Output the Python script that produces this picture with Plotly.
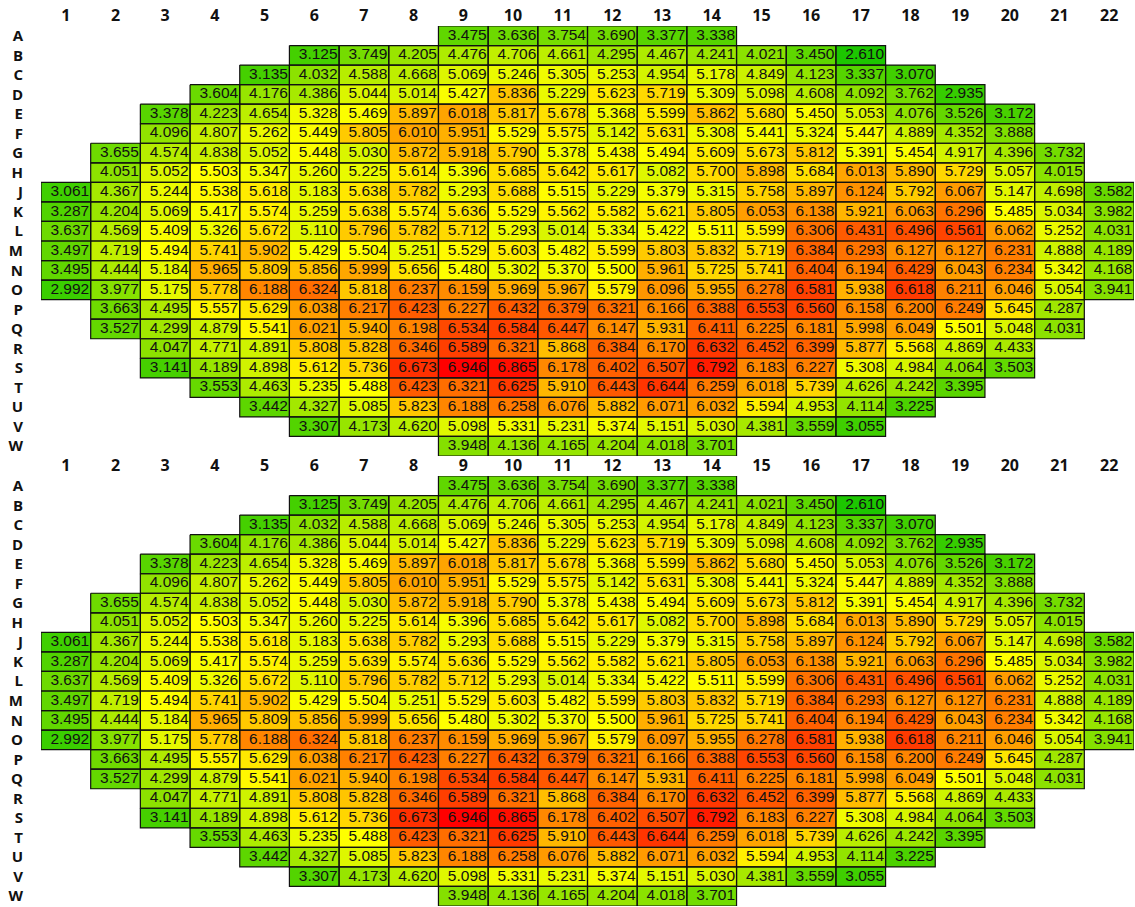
import plotly.graph_objects as go

# Core map: row letters (no "I"), column numbers, and first populated column per row
row_labels = list("ABCDEFGHJKLMNOPQRSTUVW")
col_labels = [str(i) for i in range(1, 23)]
row_first_col = [9, 6, 5, 4, 3, 3, 2, 2, 1, 1, 1, 1, 1, 1, 2, 2, 3, 3, 4, 5, 6, 9]

# Upper map values, listed row by row from the first populated column
upper_values = [
    [3.475, 3.636, 3.754, 3.690, 3.377, 3.338],
    [3.125, 3.749, 4.205, 4.476, 4.706, 4.661, 4.295, 4.467, 4.241, 4.021, 3.450, 2.610],
    [3.135, 4.032, 4.588, 4.668, 5.069, 5.246, 5.305, 5.253, 4.954, 5.178, 4.849, 4.123, 3.337, 3.070],
    [3.604, 4.176, 4.386, 5.044, 5.014, 5.427, 5.836, 5.229, 5.623, 5.719, 5.309, 5.098, 4.608, 4.092, 3.762, 2.935],
    [3.378, 4.223, 4.654, 5.328, 5.469, 5.897, 6.018, 5.817, 5.678, 5.368, 5.599, 5.862, 5.680, 5.450, 5.053, 4.076, 3.526, 3.172],
    [4.096, 4.807, 5.262, 5.449, 5.805, 6.010, 5.951, 5.529, 5.575, 5.142, 5.631, 5.308, 5.441, 5.324, 5.447, 4.889, 4.352, 3.888],
    [3.655, 4.574, 4.838, 5.052, 5.448, 5.030, 5.872, 5.918, 5.790, 5.378, 5.438, 5.494, 5.609, 5.673, 5.812, 5.391, 5.454, 4.917, 4.396, 3.732],
    [4.051, 5.052, 5.503, 5.347, 5.260, 5.225, 5.614, 5.396, 5.685, 5.642, 5.617, 5.082, 5.700, 5.898, 5.684, 6.013, 5.890, 5.729, 5.057, 4.015],
    [3.061, 4.367, 5.244, 5.538, 5.618, 5.183, 5.638, 5.782, 5.293, 5.688, 5.515, 5.229, 5.379, 5.315, 5.758, 5.897, 6.124, 5.792, 6.067, 5.147, 4.698, 3.582],
    [3.287, 4.204, 5.069, 5.417, 5.574, 5.259, 5.638, 5.574, 5.636, 5.529, 5.562, 5.582, 5.621, 5.805, 6.053, 6.138, 5.921, 6.063, 6.296, 5.485, 5.034, 3.982],
    [3.637, 4.569, 5.409, 5.326, 5.672, 5.110, 5.796, 5.782, 5.712, 5.293, 5.014, 5.334, 5.422, 5.511, 5.599, 6.306, 6.431, 6.496, 6.561, 6.062, 5.252, 4.031],
    [3.497, 4.719, 5.494, 5.741, 5.902, 5.429, 5.504, 5.251, 5.529, 5.603, 5.482, 5.599, 5.803, 5.832, 5.719, 6.384, 6.293, 6.127, 6.127, 6.231, 4.888, 4.189],
    [3.495, 4.444, 5.184, 5.965, 5.809, 5.856, 5.999, 5.656, 5.480, 5.302, 5.370, 5.500, 5.961, 5.725, 5.741, 6.404, 6.194, 6.429, 6.043, 6.234, 5.342, 4.168],
    [2.992, 3.977, 5.175, 5.778, 6.188, 6.324, 5.818, 6.237, 6.159, 5.969, 5.967, 5.579, 6.096, 5.955, 6.278, 6.581, 5.938, 6.618, 6.211, 6.046, 5.054, 3.941],
    [3.663, 4.495, 5.557, 5.629, 6.038, 6.217, 6.423, 6.227, 6.432, 6.379, 6.321, 6.166, 6.388, 6.553, 6.560, 6.158, 6.200, 6.249, 5.645, 4.287],
    [3.527, 4.299, 4.879, 5.541, 6.021, 5.940, 6.198, 6.534, 6.584, 6.447, 6.147, 5.931, 6.411, 6.225, 6.181, 5.998, 6.049, 5.501, 5.048, 4.031],
    [4.047, 4.771, 4.891, 5.808, 5.828, 6.346, 6.589, 6.321, 5.868, 6.384, 6.170, 6.632, 6.452, 6.399, 5.877, 5.568, 4.869, 4.433],
    [3.141, 4.189, 4.898, 5.612, 5.736, 6.673, 6.946, 6.865, 6.178, 6.402, 6.507, 6.792, 6.183, 6.227, 5.308, 4.984, 4.064, 3.503],
    [3.553, 4.463, 5.235, 5.488, 6.423, 6.321, 6.625, 5.910, 6.443, 6.644, 6.259, 6.018, 5.739, 4.626, 4.242, 3.395],
    [3.442, 4.327, 5.085, 5.823, 6.188, 6.258, 6.076, 5.882, 6.071, 6.032, 5.594, 4.953, 4.114, 3.225],
    [3.307, 4.173, 4.620, 5.098, 5.331, 5.231, 5.374, 5.151, 5.030, 4.381, 3.559, 3.055],
    [3.948, 4.136, 4.165, 4.204, 4.018, 3.701],
]

# Lower map values
lower_values = [
    [3.475, 3.636, 3.754, 3.690, 3.377, 3.338],
    [3.125, 3.749, 4.205, 4.476, 4.706, 4.661, 4.295, 4.467, 4.241, 4.021, 3.450, 2.610],
    [3.135, 4.032, 4.588, 4.668, 5.069, 5.246, 5.305, 5.253, 4.954, 5.178, 4.849, 4.123, 3.337, 3.070],
    [3.604, 4.176, 4.386, 5.044, 5.014, 5.427, 5.836, 5.229, 5.623, 5.719, 5.309, 5.098, 4.608, 4.092, 3.762, 2.935],
    [3.378, 4.223, 4.654, 5.328, 5.469, 5.897, 6.018, 5.817, 5.678, 5.368, 5.599, 5.862, 5.680, 5.450, 5.053, 4.076, 3.526, 3.172],
    [4.096, 4.807, 5.262, 5.449, 5.805, 6.010, 5.951, 5.529, 5.575, 5.142, 5.631, 5.308, 5.441, 5.324, 5.447, 4.889, 4.352, 3.888],
    [3.655, 4.574, 4.838, 5.052, 5.448, 5.030, 5.872, 5.918, 5.790, 5.378, 5.438, 5.494, 5.609, 5.673, 5.812, 5.391, 5.454, 4.917, 4.396, 3.732],
    [4.051, 5.052, 5.503, 5.347, 5.260, 5.225, 5.614, 5.396, 5.685, 5.642, 5.617, 5.082, 5.700, 5.898, 5.684, 6.013, 5.890, 5.729, 5.057, 4.015],
    [3.061, 4.367, 5.244, 5.538, 5.618, 5.183, 5.638, 5.782, 5.293, 5.688, 5.515, 5.229, 5.379, 5.315, 5.758, 5.897, 6.124, 5.792, 6.067, 5.147, 4.698, 3.582],
    [3.287, 4.204, 5.069, 5.417, 5.574, 5.259, 5.639, 5.574, 5.636, 5.529, 5.562, 5.582, 5.621, 5.805, 6.053, 6.138, 5.921, 6.063, 6.296, 5.485, 5.034, 3.982],
    [3.637, 4.569, 5.409, 5.326, 5.672, 5.110, 5.796, 5.782, 5.712, 5.293, 5.014, 5.334, 5.422, 5.511, 5.599, 6.306, 6.431, 6.496, 6.561, 6.062, 5.252, 4.031],
    [3.497, 4.719, 5.494, 5.741, 5.902, 5.429, 5.504, 5.251, 5.529, 5.603, 5.482, 5.599, 5.803, 5.832, 5.719, 6.384, 6.293, 6.127, 6.127, 6.231, 4.888, 4.189],
    [3.495, 4.444, 5.184, 5.965, 5.809, 5.856, 5.999, 5.656, 5.480, 5.302, 5.370, 5.500, 5.961, 5.725, 5.741, 6.404, 6.194, 6.429, 6.043, 6.234, 5.342, 4.168],
    [2.992, 3.977, 5.175, 5.778, 6.188, 6.324, 5.818, 6.237, 6.159, 5.969, 5.967, 5.579, 6.097, 5.955, 6.278, 6.581, 5.938, 6.618, 6.211, 6.046, 5.054, 3.941],
    [3.663, 4.495, 5.557, 5.629, 6.038, 6.217, 6.423, 6.227, 6.432, 6.379, 6.321, 6.166, 6.388, 6.553, 6.560, 6.158, 6.200, 6.249, 5.645, 4.287],
    [3.527, 4.299, 4.879, 5.541, 6.021, 5.940, 6.198, 6.534, 6.584, 6.447, 6.147, 5.931, 6.411, 6.225, 6.181, 5.998, 6.049, 5.501, 5.048, 4.031],
    [4.047, 4.771, 4.891, 5.808, 5.828, 6.346, 6.589, 6.321, 5.868, 6.384, 6.170, 6.632, 6.452, 6.399, 5.877, 5.568, 4.869, 4.433],
    [3.141, 4.189, 4.898, 5.612, 5.736, 6.673, 6.946, 6.865, 6.178, 6.402, 6.507, 6.792, 6.183, 6.227, 5.308, 4.984, 4.064, 3.503],
    [3.553, 4.463, 5.235, 5.488, 6.423, 6.321, 6.625, 5.910, 6.443, 6.644, 6.259, 6.018, 5.739, 4.626, 4.242, 3.395],
    [3.442, 4.327, 5.085, 5.823, 6.188, 6.258, 6.076, 5.882, 6.071, 6.032, 5.594, 4.953, 4.114, 3.225],
    [3.307, 4.173, 4.620, 5.098, 5.331, 5.231, 5.374, 5.151, 5.030, 4.381, 3.559, 3.055],
    [3.948, 4.136, 4.165, 4.204, 4.018, 3.701],
]

Z_MIN, Z_MAX = 2.61, 6.946
colorscale = [
    [0.0, "rgb(28,198,0)"],
    [0.667, "rgb(255,255,0)"],
    [1.0, "rgb(255,0,0)"],
]

n_rows, n_cols = len(row_labels), len(col_labels)
col_pos = list(range(1, n_cols + 1))
row_pos = list(range(n_rows))


def to_grid(values):
    z = [[None] * n_cols for _ in range(n_rows)]
    for r, (start, vals) in enumerate(zip(row_first_col, values)):
        for k, v in enumerate(vals):
            z[r][start - 1 + k] = v
    return z


def panel_traces(values, xa, ya):
    z = to_grid(values)
    heat = go.Heatmap(
        x=col_pos, y=row_pos, z=z, zmin=Z_MIN, zmax=Z_MAX,
        colorscale=colorscale, showscale=False, hoverongaps=False,
        xaxis=xa, yaxis=ya,
    )
    # cell outlines and right-aligned value labels
    ox, oy = [], []
    tx, ty, tt = [], [], []
    for r in range(n_rows):
        for c in range(n_cols):
            v = z[r][c]
            if v is None:
                continue
            x = col_pos[c]
            y = row_pos[r]
            ox += [x - 0.5, x + 0.5, x + 0.5, x - 0.5, x - 0.5, None]
            oy += [y - 0.5, y - 0.5, y + 0.5, y + 0.5, y - 0.5, None]
            tx.append(x + 0.47)
            ty.append(y)
            tt.append(f"{v:.3f}")
    edges = go.Scatter(
        x=ox, y=oy, mode="lines", line=dict(color="#111", width=1.2),
        hoverinfo="skip", showlegend=False, xaxis=xa, yaxis=ya,
    )
    labels = go.Scatter(
        x=tx, y=ty, text=tt, mode="text", textposition="middle left",
        textfont=dict(family="Liberation Sans", size=15.5, color="#111"),
        hoverinfo="skip", showlegend=False, xaxis=xa, yaxis=ya,
    )
    return [heat, edges, labels]


fig = go.Figure()
for tr in panel_traces(upper_values, "x", "y"):
    fig.add_trace(tr)
for tr in panel_traces(lower_values, "x2", "y2"):
    fig.add_trace(tr)

col_font = dict(family="Open Sans", size=16, color="#111", weight="bold")
row_font = dict(family="Open Sans", size=15, color="#111", weight="bold")
xaxis_common = dict(
    range=[0.5, n_cols + 0.5], side="top", tickvals=col_pos, ticktext=col_labels,
    showgrid=False, zeroline=False, showline=False, ticks="",
    tickfont=col_font, ticklabelstandoff=1, fixedrange=True,
)
yaxis_common = dict(
    range=[n_rows - 0.5, -0.5], tickvals=row_pos, ticktext=row_labels,
    showgrid=False, zeroline=False, showline=False, ticks="",
    tickfont=row_font, ticklabelstandoff=17, fixedrange=True,
)

fig.update_layout(
    width=1135, height=907,
    margin=dict(l=41, r=1, t=26, b=1),
    paper_bgcolor="white", plot_bgcolor="white",
    showlegend=False,
    xaxis=dict(domain=[0, 1], anchor="y", **xaxis_common),
    yaxis=dict(domain=[450 / 880, 1], anchor="x", **yaxis_common),
    xaxis2=dict(domain=[0, 1], anchor="y2", **xaxis_common),
    yaxis2=dict(domain=[0, 430 / 880], anchor="x2", **yaxis_common),
)

fig.write_html("out.html")
